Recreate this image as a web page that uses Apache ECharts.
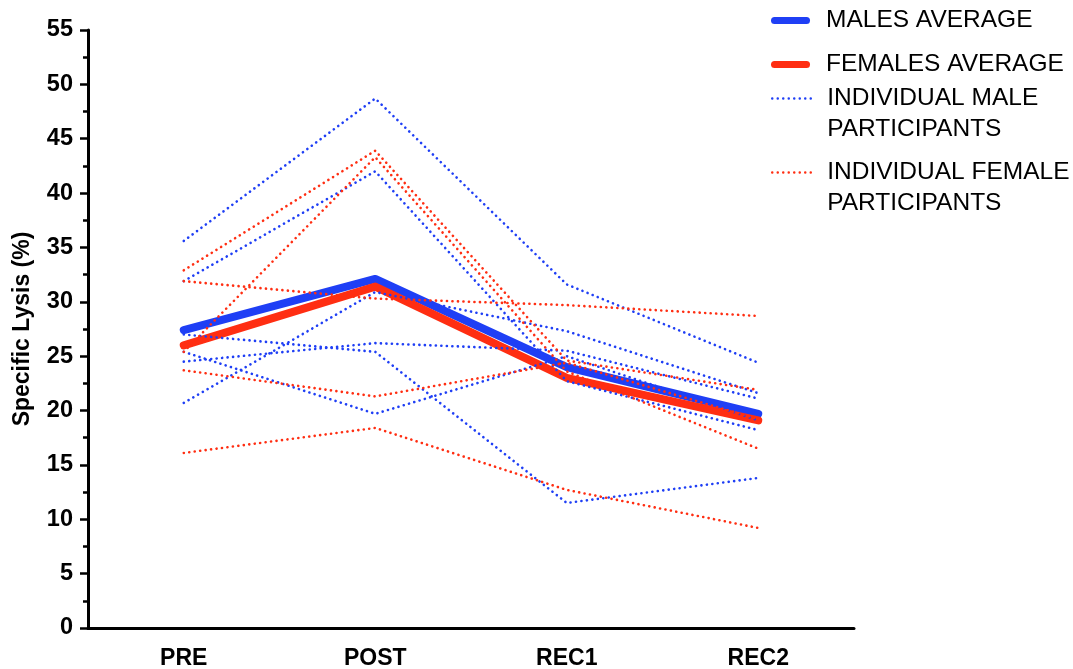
<!DOCTYPE html>
<html>
<head>
<meta charset="utf-8">
<script src="https://cdn.jsdelivr.net/npm/echarts@6/dist/echarts.min.js"></script>
<style>
html,body{margin:0;padding:0;background:#fff;}
#chart{width:1073px;height:669px;}
</style>
</head>
<body>
<div id="chart"></div>
<script>
const categories = ['PRE', 'POST', 'REC1', 'REC2'];
const malesAverage = [27.4, 32.1, 24.0, 19.7];
const femalesAverage = [26.0, 31.4, 23.0, 19.1];
const male1 = [35.6, 48.7, 31.6, 24.4];
const male2 = [31.9, 42.0, 22.7, 18.2];
const male3 = [20.7, 30.9, 27.3, 21.6];
const male4 = [24.5, 26.2, 25.5, 21.1];
const male5 = [27.0, 25.4, 11.5, 13.8];
const male6 = [25.4, 19.7, 25.0, 19.1];
const female1 = [32.9, 43.9, 24.6, 21.9];
const female2 = [31.9, 30.3, 29.7, 28.7];
const female3 = [25.4, 43.3, 23.6, 16.5];
const female4 = [23.7, 21.3, 24.4, 19.2];
const female5 = [16.1, 18.4, 12.7, 9.2];
const yTicks = [0, 55, 5];

const maleIndividuals = [male1, male2, male3, male4, male5, male6];
const femaleIndividuals = [female1, female2, female3, female4, female5];

const BLUE = '#1f3ff5';
const RED = '#ff2e12';
const FONT = 'Liberation Sans';

const NAME_MA = 'MALES AVERAGE';
const NAME_FA = 'FEMALES AVERAGE';
const NAME_MI = 'INDIVIDUAL MALE PARTICIPANTS';
const NAME_FI = 'INDIVIDUAL FEMALE PARTICIPANTS';

function avgSeries(name, data, color) {
  return {
    name: name, type: 'line', data: data, symbol: 'none', silent: true,
    lineStyle: { color: color, width: 8, cap: 'round', join: 'round' },
    itemStyle: { color: color }, z: 2
  };
}
function indSeries(name, data, color) {
  return {
    name: name, type: 'line', data: data, symbol: 'none', silent: true,
    lineStyle: { color: color, width: 2.6, type: [0.1, 5.4], cap: 'round', join: 'round' },
    itemStyle: { color: color }, z: 3
  };
}

const series = [avgSeries(NAME_MA, malesAverage, BLUE), avgSeries(NAME_FA, femalesAverage, RED)];
maleIndividuals.forEach(d => series.push(indSeries(NAME_MI, d, BLUE)));
femaleIndividuals.forEach(d => series.push(indSeries(NAME_FI, d, RED)));

function legendAt(name, top, text, lineStyle, itemWidth, padLeft) {
  return {
    data: [name], left: 771, top: top, orient: 'vertical', padding: 0,
    itemWidth: itemWidth, itemHeight: 14, selectedMode: false,
    itemStyle: { opacity: 0 },
    lineStyle: lineStyle,
    formatter: function () { return text; },
    textStyle: { fontFamily: FONT, fontSize: 24.5, color: '#000', lineHeight: 31, padding: [0, 0, 0, padLeft] }
  };
}

const option = {
  animation: false,
  backgroundColor: '#fff',
  grid: { left: 88, top: 30, width: 766, bottom: 41, containLabel: false, outerBoundsMode: 'none' },
  legend: [
    legendAt(NAME_MA, 5, 'MALES AVERAGE', { width: 7, cap: 'round' }, 32, 14.5),
    legendAt(NAME_FA, 49, 'FEMALES AVERAGE', { width: 7, cap: 'round' }, 32, 14.5),
    legendAt(NAME_MI, 52, '\nINDIVIDUAL MALE\nPARTICIPANTS', { width: 2.4 }, 39, 11),
    legendAt(NAME_FI, 126, '\nINDIVIDUAL FEMALE\nPARTICIPANTS', { width: 2.4 }, 39, 11)
  ],
  xAxis: {
    type: 'category', data: categories, boundaryGap: true,
    axisLine: { lineStyle: { color: '#000', width: 3 } },
    axisTick: { alignWithLabel: true, length: 8, lineStyle: { color: '#000', width: 3 } },
    axisLabel: { fontFamily: FONT, fontWeight: 'bold', fontSize: 23, color: '#000', margin: 19 },
    splitLine: { show: false }
  },
  yAxis: {
    type: 'value', min: yTicks[0], max: yTicks[1], interval: yTicks[2],
    name: 'Specific Lysis (%)', nameLocation: 'middle', nameGap: 54,
    nameTextStyle: { fontFamily: FONT, fontWeight: 'bold', fontSize: 23, color: '#000' },
    axisLine: { show: true, lineStyle: { color: '#000', width: 3 } },
    axisTick: { show: true, length: 8, lineStyle: { color: '#000', width: 2.5 } },
    minorTick: { show: true, splitNumber: 2, length: 5, lineStyle: { color: '#000', width: 2.5 } },
    axisLabel: { fontFamily: FONT, fontWeight: 'bold', fontSize: 23.5, color: '#000', margin: 15 },
    splitLine: { show: false }
  },
  series: series
};

const chart = echarts.init(document.getElementById('chart'), null, { renderer: 'canvas' });
chart.setOption(option);
</script>
</body>
</html>
